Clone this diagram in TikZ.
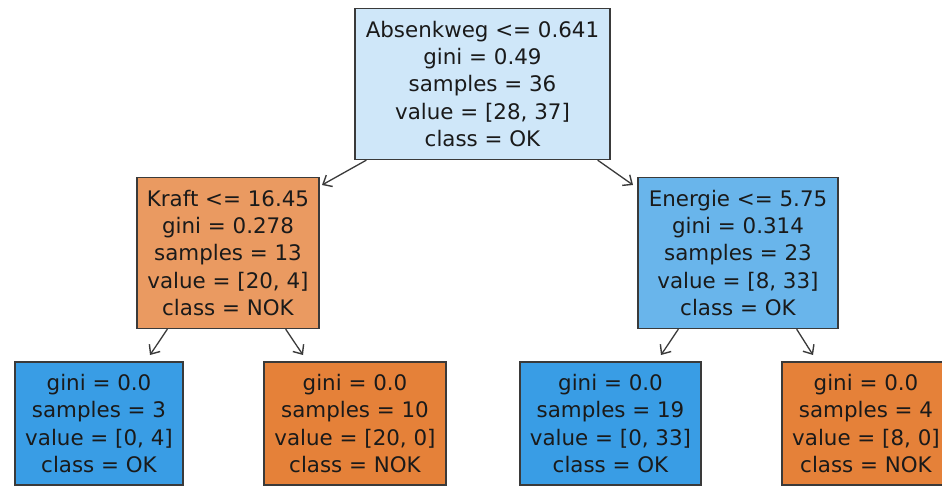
\documentclass[tikz,border=0pt]{standalone}
\usepackage{fontspec}
\setmainfont{DejaVu Sans}
\usetikzlibrary{arrows.meta}
\definecolor{rootc}{HTML}{CFE7F9}
\definecolor{kraftc}{HTML}{EA9A61}
\definecolor{energc}{HTML}{69B5EB}
\definecolor{okc}{HTML}{399DE5}
\definecolor{nokc}{HTML}{E58139}
\definecolor{edgec}{HTML}{3A3A3A}
\definecolor{txtc}{HTML}{1A1A1A}
\tikzset{
  treebox/.style={draw=edgec, line width=1.3pt, rectangle, align=center,
    inner sep=0pt, text=txtc, font=\fontsize{21.4}{27.2}\selectfont},
  inner/.style={treebox, minimum height=151pt},
  leafbox/.style={treebox, minimum height=123pt},
  conn/.style={draw=edgec, line width=1.3pt, -{Straight Barb[length=7.5pt,width=13pt,line width=1.4pt]}}
}
\begin{document}
\begin{tikzpicture}[x=1pt,y=-1pt]
\useasboundingbox (0,0) rectangle (942,486);
\node[inner, fill=rootc, minimum width=255pt] (root) at (482.5,84)
  {Absenkweg <= 0.641\\gini = 0.49\\samples = 36\\value = [28, 37]\\class = OK};
\node[inner, fill=kraftc, minimum width=182pt] (kraft) at (228,253)
  {Kraft <= 16.45\\gini = 0.278\\samples = 13\\value = [20, 4]\\class = NOK};
\node[inner, fill=energc, minimum width=200pt] (energie) at (738,253)
  {Energie <= 5.75\\gini = 0.314\\samples = 23\\value = [8, 33]\\class = OK};
\node[leafbox, fill=okc, minimum width=168pt] (l1) at (99,423.5)
  {gini = 0.0\\samples = 3\\value = [0, 4]\\class = OK};
\node[leafbox, fill=nokc, minimum width=182pt] (l2) at (355,423.5)
  {gini = 0.0\\samples = 10\\value = [20, 0]\\class = NOK};
\node[leafbox, fill=okc, minimum width=181pt] (l3) at (610.5,423.5)
  {gini = 0.0\\samples = 19\\value = [0, 33]\\class = OK};
\node[leafbox, fill=nokc, minimum width=168pt] (l4) at (866,423.5)
  {gini = 0.0\\samples = 4\\value = [8, 0]\\class = NOK};
\coordinate (t1) at (322,185);
\coordinate (t2) at (633,185);
\coordinate (t3) at (150,355);
\coordinate (t4) at (303,355);
\coordinate (t5) at (661,355);
\coordinate (t6) at (813,355);
\draw[conn] ([xshift=12pt]root.south west) -- (t1);
\draw[conn] ([xshift=-13pt]root.south east) -- (t2);
\draw[conn] ([xshift=31pt]kraft.south west) -- (t3);
\draw[conn] ([xshift=-34pt]kraft.south east) -- (t4);
\draw[conn] ([xshift=41pt]energie.south west) -- (t5);
\draw[conn] ([xshift=-42pt]energie.south east) -- (t6);
\end{tikzpicture}
\end{document}
